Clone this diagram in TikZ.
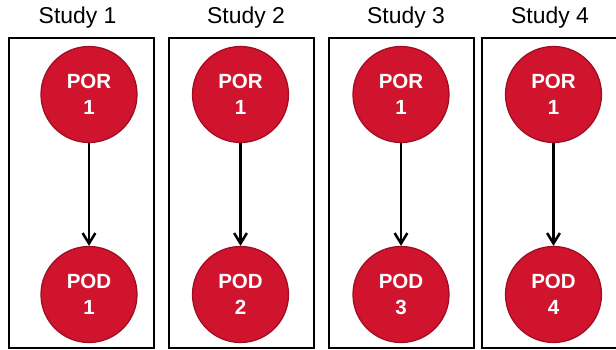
\documentclass[tikz,border=0pt]{standalone}
\usepackage{fontspec}
\setmainfont{Liberation Sans}
\usepackage{tikz}
\usetikzlibrary{arrows.meta}
\definecolor{studyred}{RGB}{208,20,46}
\definecolor{studyedge}{RGB}{158,14,34}
\tikzset{>={Straight Barb[length=2.6mm,width=3.2mm]}}
\tikzset{
  studybox/.style={draw,line width=1.8pt,minimum width=3.625cm,minimum height=7.75cm,inner sep=0pt},
  pnode/.style={circle,fill=studyred,draw=studyedge,line width=0.9pt,minimum size=2.4cm,inner sep=0pt,
    text=white,font=\fontsize{14.6}{18.4}\selectfont\bfseries,align=center},
  title/.style={font=\fontsize{16.3}{19}\selectfont}
}

\begin{document}
\begin{tikzpicture}
    \clip (0,0) rectangle (15.4,8.75);
    \useasboundingbox (0,0) rectangle (15.4,8.75);

    % the four study frames
    \node[studybox] at (2.0375, 3.925)  (box1) {};
    \node[studybox] at (6.0375, 3.925)  (box2) {};
    \node[studybox] at (10.0375, 3.925) (box3) {};
    \node[studybox] at (13.8625, 3.925) (box4) {};

    \node[title] at (1.94, 8.3)  (t1) {Study 1};
    \node[title] at (6.15, 8.3)  (t2) {Study 2};
    \node[title] at (10.15, 8.3) (t3) {Study 3};
    \node[title] at (13.75, 8.3) (t4) {Study 4};

    % POR on top, POD below
    \node[pnode] at (2.225, 6.3875)   (por1) {POR\\1};
    \node[pnode] at (6.0125, 6.3875)  (por2) {POR\\1};
    \node[pnode] at (10.025, 6.3875)  (por3) {POR\\1};
    \node[pnode] at (13.8375, 6.3875) (por4) {POR\\1};

    \node[pnode] at (2.225, 1.3875)   (pod1) {POD\\1};
    \node[pnode] at (6.0125, 1.3875)  (pod2) {POD\\2};
    \node[pnode] at (10.025, 1.3875)  (pod3) {POD\\3};
    \node[pnode] at (13.8375, 1.3875) (pod4) {POD\\4};

    \draw[->,line width=1.8pt] (por1)--(pod1);
    \draw[->,line width=1.8pt] (por2)--(pod2);
    \draw[->,line width=1.8pt] (por3)--(pod3);
    \draw[->,line width=1.8pt] (por4)--(pod4);
\end{tikzpicture}
\end{document}
